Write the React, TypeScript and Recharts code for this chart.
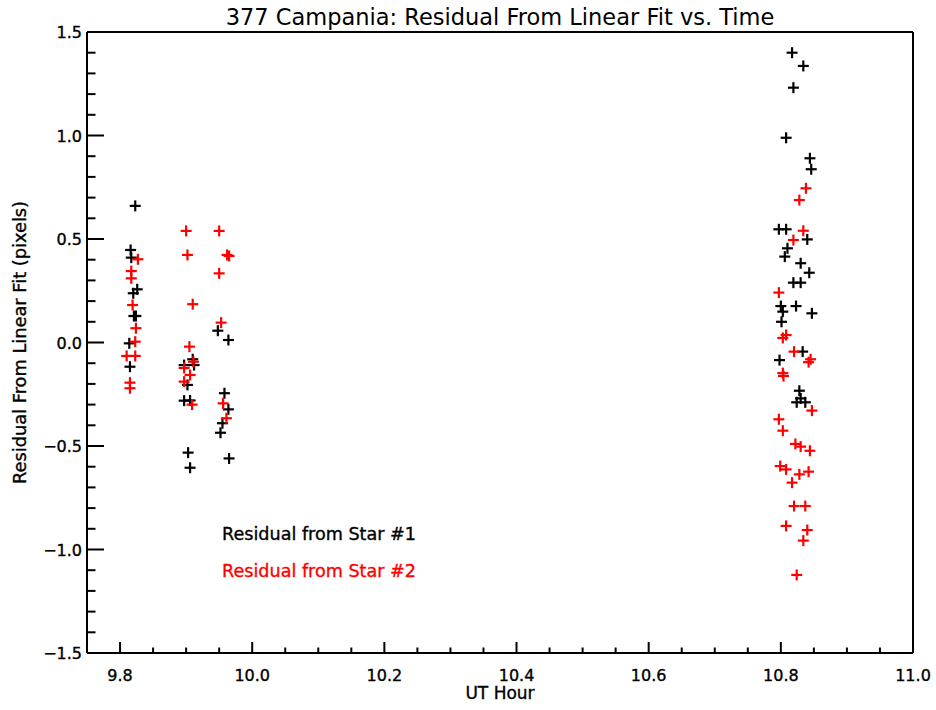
import React from 'react';
import { ScatterChart, Scatter, XAxis, YAxis, Legend } from 'recharts';

const chartTitle = '377 Campania: Residual From Linear Fit vs. Time';
const xTitle = 'UT Hour';
const yTitle = 'Residual From Linear Fit (pixels)';
const series1Name = 'Residual from Star #1';
const series2Name = 'Residual from Star #2';

const xDomain = [9.75, 11.0];
const yDomain = [-1.5, 1.5];
const xMajorTicks = [9.8, 10.0, 10.2, 10.4, 10.6, 10.8, 11.0];
const xMinorTicks = [9.85, 9.9, 9.95, 10.05, 10.1, 10.15, 10.25, 10.3, 10.35, 10.45, 10.5, 10.55, 10.65, 10.7, 10.75, 10.85, 10.9, 10.95];
const yMajorTicks = [-1.5, -1.0, -0.5, 0.0, 0.5, 1.0, 1.5];
const yMinorTicks = [-1.4, -1.3, -1.2, -1.1, -0.9, -0.8, -0.7, -0.6, -0.4, -0.3, -0.2, -0.1, 0.1, 0.2, 0.3, 0.4, 0.6, 0.7, 0.8, 0.9, 1.1, 1.2, 1.3, 1.4];

// Star #1 residuals (black)
const star1X = [
  9.823, 9.816, 9.817, 9.820, 9.826, 9.821, 9.824, 9.814, 9.815,
  9.910, 9.897, 9.912, 9.902, 9.897, 9.906, 9.903, 9.906,
  9.948, 9.964, 9.958, 9.964, 9.955, 9.952, 9.965,
  10.817, 10.834, 10.819, 10.808, 10.844, 10.846, 10.797, 10.808, 10.840, 10.810, 10.806, 10.830, 10.843,
  10.819, 10.830, 10.800, 10.823, 10.847, 10.803, 10.801, 10.833, 10.798, 10.828, 10.824, 10.837, 10.830,
];
const star1Y = [
  0.66, 0.447, 0.41, 0.238, 0.257, 0.128, 0.128, -0.004, -0.117,
  -0.081, -0.109, -0.109, -0.205, -0.281, -0.28, -0.532, -0.605,
  0.057, 0.012, -0.245, -0.323, -0.39, -0.436, -0.56,
  1.40, 1.336, 1.231, 0.989, 0.89, 0.837, 0.547, 0.547, 0.498, 0.455, 0.415, 0.383, 0.337,
  0.289, 0.289, 0.176, 0.176, 0.141, 0.149, 0.10, -0.044, -0.085, -0.233, -0.289, -0.289, -0.27,
];

// Star #2 residuals (red)
const star2X = [
  9.827, 9.817, 9.817, 9.819, 9.824, 9.823, 9.810, 9.823, 9.815, 9.815,
  9.900, 9.950, 9.902, 9.962, 9.965, 9.950, 9.910, 9.953, 9.905, 9.911, 9.897, 9.906, 9.897, 9.909, 9.956, 9.961,
  10.838, 10.828, 10.834, 10.819, 10.797, 10.808, 10.803, 10.820, 10.845, 10.842, 10.804, 10.803,
  10.847, 10.797, 10.803, 10.822, 10.830, 10.844, 10.799, 10.808, 10.842, 10.828, 10.817, 10.820, 10.837,
  10.808, 10.840, 10.834, 10.824,
];
const star2Y = [
  0.402, 0.345, 0.31, 0.181, 0.069, 0.004, -0.065, -0.065, -0.194, -0.221,
  0.539, 0.539, 0.423, 0.423, 0.418, 0.334, 0.185, 0.096, -0.02, -0.093, -0.123, -0.157, -0.189, -0.30, -0.294, -0.366,
  0.745, 0.688, 0.54, 0.495, 0.241, 0.036, 0.022, -0.044, -0.081, -0.095, -0.162, -0.148,
  -0.329, -0.371, -0.426, -0.49, -0.503, -0.523, -0.597, -0.613, -0.624, -0.637, -0.677, -0.79, -0.79,
  -0.886, -0.906, -0.957, -1.123,
];

const star1Data = star1X.map((x, i) => ({ x, y: star1Y[i] }));
const star2Data = star2X.map((x, i) => ({ x, y: star2Y[i] }));

const allXTicks = [...xMajorTicks, ...xMinorTicks].sort((a, b) => a - b);
const allYTicks = [...yMajorTicks, ...yMinorTicks].sort((a, b) => a - b);

const isIn = (arr: number[], v: number) => arr.some((m) => Math.abs(m - v) < 1e-6);
const fmt = (v: number) => (v < 0 ? '\u2212' + Math.abs(v).toFixed(1) : v.toFixed(1));

const FONT = 'DejaVu Sans';
const AX = { stroke: '#000', strokeWidth: 2 };
const TXT = { stroke: '#000', strokeWidth: 0.35 };

const BottomTick = (props: any) => {
  const { x, y, payload } = props;
  const major = isIn(xMajorTicks, payload.value);
  return (
    <g>
      <line x1={x} x2={x} y1={y} y2={y - (major ? 11 : 5.5)} stroke="#000" strokeWidth={2} />
      {major && (
        <text x={x} y={y + 28} textAnchor="middle" fontFamily={FONT} fontSize={16} fill="#000" {...TXT}>
          {fmt(payload.value)}
        </text>
      )}
    </g>
  );
};

const TopTick = (props: any) => {
  const { x, y, payload } = props;
  const major = isIn(xMajorTicks, payload.value);
  return <line x1={x} x2={x} y1={y} y2={y + (major ? 11 : 5.5)} stroke="#000" strokeWidth={2} />;
};

const LeftTick = (props: any) => {
  const { x, y, payload } = props;
  const major = isIn(yMajorTicks, payload.value);
  return (
    <g>
      <line x1={x} x2={x + (major ? 17 : 8.5)} y1={y} y2={y} stroke="#000" strokeWidth={2} />
      {major && (
        <text x={x - 5} y={y + 6} textAnchor="end" fontFamily={FONT} fontSize={16} fill="#000" {...TXT}>
          {fmt(payload.value)}
        </text>
      )}
    </g>
  );
};

const RightTick = (props: any) => {
  const { x, y, payload } = props;
  const major = isIn(yMajorTicks, payload.value);
  return <line x1={x} x2={x - (major ? 17 : 8.5)} y1={y} y2={y} stroke="#000" strokeWidth={2} />;
};

const Plus = (props: any) => {
  const { cx, cy, color } = props;
  if (cx == null || cy == null) return null;
  const h = 5.5;
  return (
    <g>
      <line x1={cx - h} x2={cx + h} y1={cy} y2={cy} stroke={color} strokeWidth={2.2} />
      <line x1={cx} x2={cx} y1={cy - h} y2={cy + h} stroke={color} strokeWidth={2.2} />
    </g>
  );
};

const LegendContent = () => (
  <div style={{ fontFamily: FONT, fontSize: 17.6, whiteSpace: 'nowrap' }}>
    <div style={{ height: 37, lineHeight: '37px', color: '#000', WebkitTextStroke: '0.35px #000' }}>{series1Name}</div>
    <div style={{ height: 37, lineHeight: '37px', color: '#ff0000', WebkitTextStroke: '0.35px #ff0000' }}>{series2Name}</div>
  </div>
);

export default function App() {
  return (
    <div style={{ position: 'absolute', left: 0, top: 0, background: '#fff' }}>
      <ScatterChart width={936} height={710} margin={{ top: 31, right: 22, bottom: 56, left: 86 }}>
        <XAxis
          xAxisId="bottom"
          dataKey="x"
          type="number"
          orientation="bottom"
          domain={xDomain}
          ticks={allXTicks}
          interval={0}
          height={1}
          tickSize={0}
          tickMargin={0}
          tickLine={false}
          axisLine={AX}
          tick={BottomTick}
          label={{ value: xTitle, position: 'bottom', offset: 33, style: { fontFamily: FONT, fontSize: 17, fill: '#000', ...TXT } }}
        />
        <XAxis
          xAxisId="top"
          type="number"
          orientation="top"
          domain={xDomain}
          ticks={allXTicks}
          interval={0}
          height={1}
          tickSize={0}
          tickMargin={0}
          tickLine={false}
          axisLine={AX}
          tick={TopTick}
          label={{ value: chartTitle, position: 'top', offset: 6, style: { fontFamily: FONT, fontSize: 22.5, fill: '#000' } }}
        />
        <YAxis
          yAxisId="left"
          dataKey="y"
          type="number"
          orientation="left"
          domain={yDomain}
          ticks={allYTicks}
          interval={0}
          width={1}
          tickSize={0}
          tickMargin={0}
          tickLine={false}
          axisLine={AX}
          tick={LeftTick}
          label={{ value: yTitle, angle: -90, position: 'left', offset: 66, style: { textAnchor: 'middle', fontFamily: FONT, fontSize: 17.8, fill: '#000', ...TXT } }}
        />
        <YAxis
          yAxisId="right"
          type="number"
          orientation="right"
          domain={yDomain}
          ticks={allYTicks}
          interval={0}
          width={1}
          tickSize={0}
          tickMargin={0}
          tickLine={false}
          axisLine={AX}
          tick={RightTick}
        />
        <Scatter
          name={series1Name}
          data={star1Data}
          xAxisId="bottom"
          yAxisId="left"
          isAnimationActive={false}
          shape={(p: any) => <Plus {...p} color="#000" />}
        />
        <Scatter
          name={series2Name}
          data={star2Data}
          xAxisId="bottom"
          yAxisId="left"
          isAnimationActive={false}
          shape={(p: any) => <Plus {...p} color="#ff0000" />}
        />
        <Legend
          layout="horizontal"
          verticalAlign="middle"
          align="center"
          content={LegendContent}
          wrapperStyle={{ left: 222, top: 516, width: 'auto' }}
        />
      </ScatterChart>
    </div>
  );
}
